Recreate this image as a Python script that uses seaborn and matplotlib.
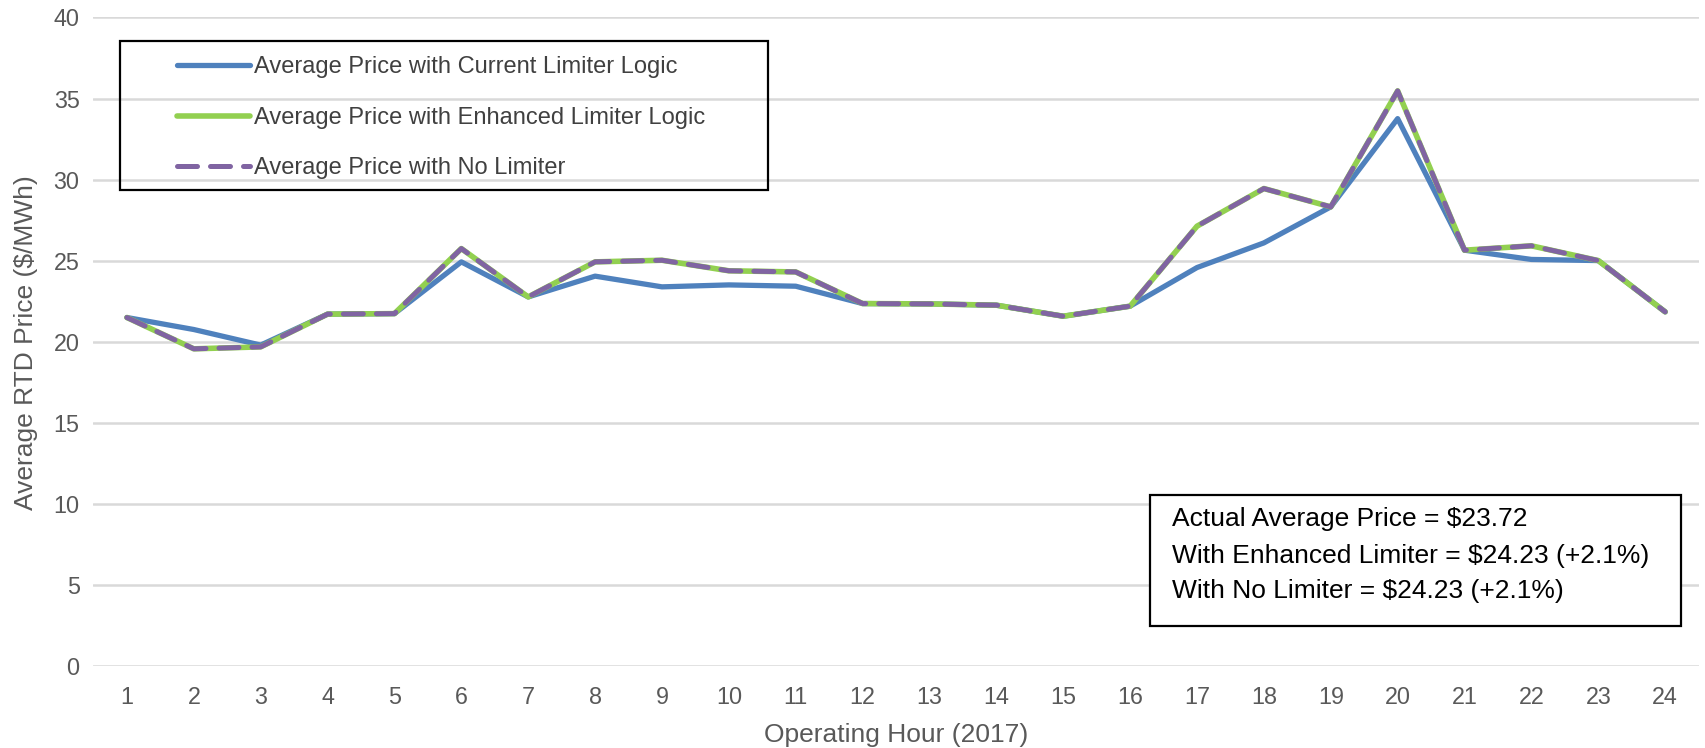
import matplotlib
matplotlib.use("Agg")
import matplotlib.pyplot as plt
from matplotlib.patches import Rectangle
import seaborn as sns
import pandas as pd

hours = list(range(1, 25))
current = [21.5, 20.76, 19.8, 21.71, 21.74, 24.93, 22.77, 24.05, 23.39, 23.51, 23.43, 22.36,
           22.34, 22.26, 21.58, 22.2, 24.58, 26.1, 28.32, 33.76, 25.65, 25.08, 25.01, 21.85]
enhanced = [21.5, 19.57, 19.69, 21.71, 21.74, 25.75, 22.77, 24.93, 25.03, 24.38, 24.31, 22.36,
            22.34, 22.26, 21.58, 22.2, 27.13, 29.45, 28.32, 35.47, 25.65, 25.92, 25.01, 21.85]
no_limiter = list(enhanced)
series_names = ["Average Price with Current Limiter Logic",
                "Average Price with Enhanced Limiter Logic",
                "Average Price with No Limiter"]
y_ticks = [0, 5, 10, 15, 20, 25, 30, 35, 40]
note_lines = ["Actual Average Price = $23.72",
              "With Enhanced Limiter = $24.23 (+2.1%)",
              "With No Limiter = $24.23 (+2.1%)"]

sns.set_theme(style="white")
plt.rcParams["font.family"] = ["Liberation Sans", "DejaVu Sans"]

W, H = 1706, 748
fig = plt.figure(figsize=(W / 100, H / 100), dpi=100)
ax = fig.add_axes([93.5 / W, 1 - 666.3 / H, (1698.6 - 93.5) / W, (666.3 - 17.4) / H])

df = pd.DataFrame({"hour": hours, "cur": current, "enh": enhanced, "nol": no_limiter})
sns.lineplot(data=df, x="hour", y="cur", ax=ax, color="#4f81bd", linewidth=3.8,
             label=series_names[0], solid_capstyle="round", solid_joinstyle="round", zorder=3)
sns.lineplot(data=df, x="hour", y="enh", ax=ax, color="#92d050", linewidth=4.0,
             label=series_names[1], solid_capstyle="round", solid_joinstyle="round", zorder=4)
sns.lineplot(data=df, x="hour", y="nol", ax=ax, color="#8064a2", linewidth=3.6,
             label=series_names[2], zorder=5)
line3 = ax.get_lines()[-1]
line3.set_dashes((4, 2.6))
line3.set_dash_capstyle("round")
line3.set_dash_joinstyle("round")

ax.set_xlim(0.5, 24.5)
ax.set_ylim(0, 40)
ax.set_xticks(hours)
ax.set_xticklabels([str(h) for h in hours])
ax.set_yticks(y_ticks)
ax.grid(axis="y", color="#d9d9d9", linewidth=1.8)
ax.set_axisbelow(True)
for s in ax.spines.values():
    s.set_visible(False)
ax.tick_params(axis="both", length=0, labelsize=16.8, labelcolor="#595959")
ax.tick_params(axis="x", pad=14)
ax.tick_params(axis="y", pad=10)
ax.set_xlabel("Operating Hour (2017)", fontsize=19, color="#595959")
ax.set_ylabel("Average RTD Price ($/MWh)", fontsize=19, color="#595959")
ax.xaxis.set_label_coords((896 - 93.5) / (1698.6 - 93.5), (666.3 - 723) / (666.3 - 17.4))
ax.yaxis.set_label_coords((38 - 93.5) / (1698.6 - 93.5), (666.3 - 343) / (666.3 - 17.4))

# legend
handles, labels = ax.get_legend_handles_labels()
if ax.legend_ is not None:
    ax.legend_.remove()
fig.patches.append(Rectangle((120 / W, 1 - 190 / H), (768 - 120) / W, (190 - 41) / H,
                             transform=fig.transFigure, fill=False, edgecolor="black",
                             linewidth=1.6, zorder=10))
leg = fig.legend(handles, labels, loc="upper left", bbox_to_anchor=(177 / W, 1 - 56.5 / H),
                 frameon=False, fontsize=17, handlelength=3.1, handletextpad=0.17,
                 labelspacing=1.2, borderaxespad=0, borderpad=0)
for t in leg.get_texts():
    t.set_color("#404040")

# note box
fig.patches.append(Rectangle((1150 / W, 1 - 626 / H), (1681 - 1150) / W, (626 - 495) / H,
                             transform=fig.transFigure, facecolor="white", edgecolor="black",
                             linewidth=1.6, zorder=10))
for line, yc in zip(note_lines, [519, 556, 591]):
    fig.text(1172 / W, 1 - yc / H, line, fontsize=19, color="black",
             va="center", ha="left", zorder=11)

fig.savefig("out.png", dpi=100)
